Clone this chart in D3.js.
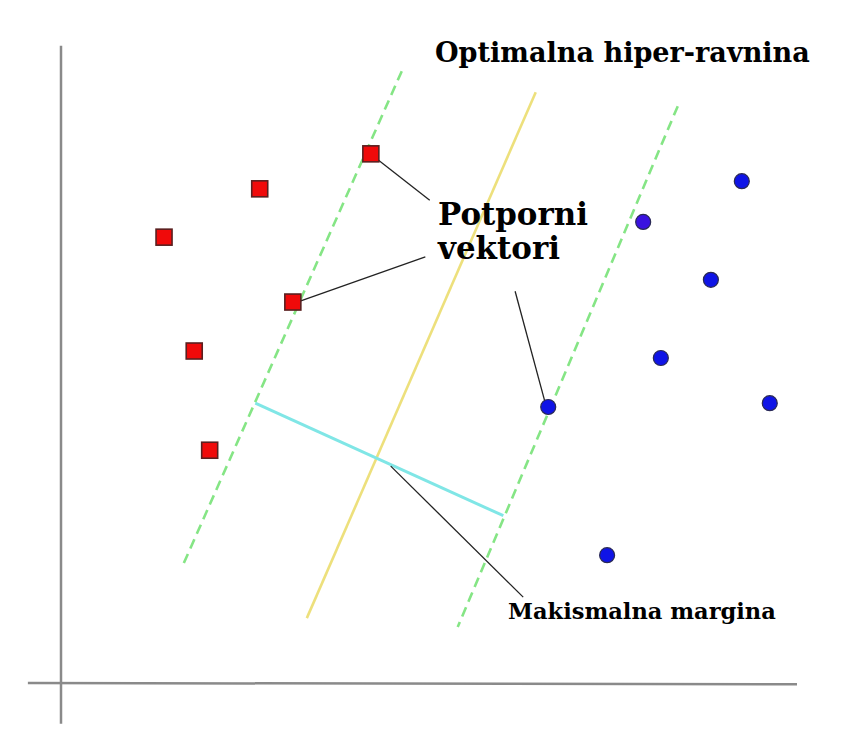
<!DOCTYPE html>
<html>
<head>
<meta charset="utf-8">
<script src="https://cdn.jsdelivr.net/npm/d3@7"></script>
<style>
  html, body { margin: 0; padding: 0; background: #fff; }
  svg { display: block; }
</style>
</head>
<body>
<svg id="chart" width="860" height="740"></svg>
<script>
// ---- Data (in chart units: origin at the axes' crossing) ----
const redX = [42.1, 27.0, 14.0, 31.5, 18.1, 20.2];
const redY = [83.2, 77.7, 70.1, 59.9, 52.2, 36.6];

const blueX = [92.5, 79.1, 88.3, 81.5, 66.2, 96.3, 74.2];
const blueY = [78.9, 72.5, 63.4, 51.1, 43.4, 44.0, 20.1];

// lines: [x1, y1, x2, y2]
const marginLeft = [46.3, 96.2, 16.4, 18.1];
const hyperplane = [64.5, 92.9, 33.4, 10.2];
const marginRight = [83.8, 90.7, 53.9, 8.8];
const marginWidth = [26.4, 44.0, 60.1, 26.3];

const xAxisLine = [-4.5, 0.0, 100, -0.2];
const yAxisLine = [0.0, -6.4, 0.0, 100.2];

// leader lines from labels to points
const leaders = [
  [42.8, 82.5, 50.1, 75.9],
  [32.1, 59.9, 49.5, 67.0],
  [61.7, 61.6, 65.8, 44.0],
  [44.8, 34.1, 62.8, 13.5]
];

const labelTexts = ["Optimalna hiper-ravnina", "Potporni", "vektori", "Makismalna margina"];

// ---- Layout ----
const svg = d3.select("#chart");
const x = d3.scaleLinear().domain([0, 100]).range([61, 797]);
const y = d3.scaleLinear().domain([0, 100]).range([683, 47]);

function seg(g, d, stroke, width, dash) {
  const l = g.append("line")
    .attr("x1", x(d[0])).attr("y1", y(d[1]))
    .attr("x2", x(d[2])).attr("y2", y(d[3]))
    .attr("stroke", stroke).attr("stroke-width", width)
    .attr("stroke-linecap", "butt");
  if (dash) l.attr("stroke-dasharray", dash);
  return l;
}

const gAxes = svg.append("g");
seg(gAxes, xAxisLine, "#8a8a8a", 2.5);
seg(gAxes, yAxisLine, "#8a8a8a", 2.5);

const gLines = svg.append("g");
seg(gLines, marginLeft, "#85e585", 2.6, "10,6");
seg(gLines, marginRight, "#85e585", 2.6, "10,6");
seg(gLines, hyperplane, "#ede07c", 2.6);
seg(gLines, marginWidth, "#80e6e6", 3);

const gLead = svg.append("g");
leaders.forEach(d => seg(gLead, d, "#222", 1.3));

// red squares
const sq = 16;
svg.append("g").selectAll("rect")
  .data(d3.range(redX.length))
  .join("rect")
  .attr("x", i => x(redX[i]) - sq / 2)
  .attr("y", i => y(redY[i]) - sq / 2)
  .attr("width", sq).attr("height", sq)
  .attr("fill", "#f00a0a")
  .attr("stroke", "#5a2020").attr("stroke-width", 1.6);

// blue circles
svg.append("g").selectAll("circle")
  .data(d3.range(blueX.length))
  .join("circle")
  .attr("cx", i => x(blueX[i]))
  .attr("cy", i => y(blueY[i]))
  .attr("r", 7.5)
  .attr("fill", (d, i) => i === 1 ? "#3a12e0" : "#0f14e6")
  .attr("stroke", "#2a2a55").attr("stroke-width", 1.2);

// labels (size fitted to the reference's text widths; group shares size)
const labelLayout = [
  { x: 435, y: 62, w: 375, size: 27, group: 0 },
  { x: 438, y: 225, w: 150, size: 28, group: 1 },
  { x: 438, y: 259, w: null, size: 28, group: 1 },
  { x: 508, y: 619, w: 268, size: 21, group: 2 }
];
const gText = svg.append("g");
const groupSize = {};
labelTexts.forEach((t, i) => {
  const L = labelLayout[i];
  const txt = gText.append("text")
    .attr("x", L.x).attr("y", L.y)
    .attr("font-family", "'DejaVu Serif', 'Liberation Serif', serif")
    .attr("font-weight", "bold")
    .attr("font-size", L.size)
    .attr("fill", "#000")
    .text(t);
  if (L.w) {
    const len = txt.node().getComputedTextLength();
    if (len > 0) groupSize[L.group] = L.size * L.w / len;
  }
  if (groupSize[L.group]) txt.attr("font-size", groupSize[L.group]);
});
</script>
</body>
</html>
